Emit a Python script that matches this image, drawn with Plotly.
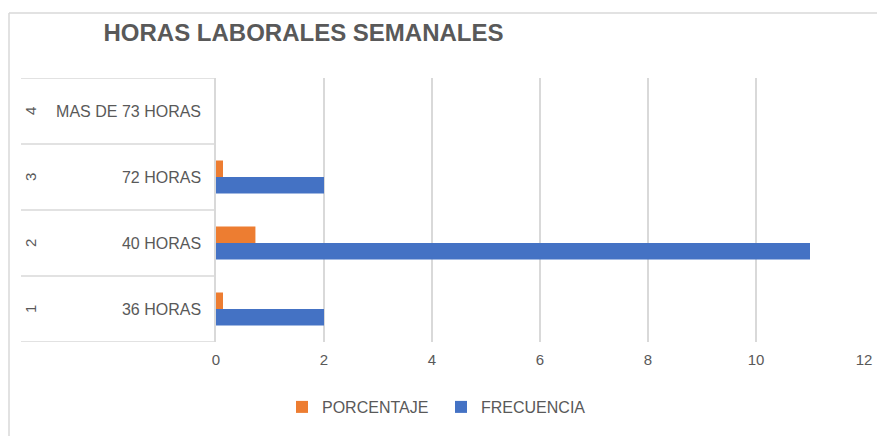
import plotly.graph_objects as go

# ---- data ----
categories = ["36 HORAS", "40 HORAS", "72 HORAS", "MAS DE 73 HORAS"]
codes = ["1", "2", "3", "4"]
frecuencia = [2, 11, 2, 0]
porcentaje = [0.13, 0.73, 0.13, 0]
x_ticks = [0, 2, 4, 6, 8, 10, 12]

W, H = 877, 436
ML, MT = 216, 78
PR, PB = 864, 342
MR, MB = W - PR, H - PB
PW = PR - ML
PH = PB - MT

def px_x(p):  # pixel x -> paper x
    return (p - ML) / PW

def px_y(p):  # pixel y -> paper y
    return (PB - p) / PH

TXT = "#595959"
GRID = "#d9d9d9"
FONT = "Liberation Sans, Arial, sans-serif"

fig = go.Figure()
fig.add_trace(go.Bar(y=categories, x=frecuencia, orientation="h", name="FRECUENCIA",
                     marker=dict(color="#4472C4", line=dict(width=0))))
fig.add_trace(go.Bar(y=categories, x=porcentaje, orientation="h", name="PORCENTAJE",
                     marker=dict(color="#ED7D31", line=dict(width=0))))

shapes = []
# chart border (top and left, cropped)
shapes.append(dict(type="line", xref="paper", yref="paper", x0=px_x(9), x1=px_x(900),
                   y0=px_y(13), y1=px_y(13), line=dict(color=GRID, width=1.5), layer="below"))
shapes.append(dict(type="line", xref="paper", yref="paper", x0=px_x(9), x1=px_x(9),
                   y0=px_y(13), y1=px_y(460), line=dict(color=GRID, width=1.5), layer="below"))
# multi-level category box lines
for k in range(len(categories) + 1):
    shapes.append(dict(type="line", xref="paper", yref="y", x0=px_x(21), x1=0,
                       y0=k - 0.5, y1=k - 0.5, line=dict(color=GRID, width=1.5), layer="below"))

annotations = []
for c, cat in zip(codes, categories):
    annotations.append(dict(xref="paper", yref="y", x=px_x(30), y=cat, text=c, showarrow=False,
                            textangle=-90, font=dict(family=FONT, size=15, color=TXT),
                            xanchor="center", yanchor="middle"))

fig.update_layout(
    width=W, height=H, autosize=False,
    margin=dict(l=ML, r=MR, t=MT, b=MB, autoexpand=False),
    paper_bgcolor="white", plot_bgcolor="white",
    barmode="group", bargap=0.5, bargroupgap=0,
    title=dict(text="<b>HORAS LABORALES SEMANALES</b>", x=303.5 / W, xanchor="center",
               y=1 - 33 / H, yanchor="middle",
               font=dict(family=FONT, size=24, color=TXT)),
    xaxis=dict(range=[0, 12], tickvals=x_ticks, showgrid=True, gridcolor=GRID, gridwidth=1.5,
               zeroline=False, showline=False, ticks="", automargin=False,
               tickfont=dict(family=FONT, size=15, color=TXT), ticklabelstandoff=7),
    yaxis=dict(type="category", categoryorder="array", categoryarray=categories,
               range=[-0.5, len(categories) - 0.5], showgrid=False, zeroline=False,
               showline=True, linecolor=GRID, linewidth=1.5, ticks="", automargin=False,
               tickfont=dict(family=FONT, size=16, color=TXT), ticklabelstandoff=10),
    legend=dict(orientation="h", traceorder="reversed", x=px_x(282), xanchor="left",
                y=px_y(407), yanchor="middle", font=dict(family=FONT, size=16, color=TXT),
                itemwidth=30, entrywidth=114, entrywidthmode="pixels",
                bgcolor="rgba(0,0,0,0)"),
    shapes=shapes,
    annotations=annotations,
    showlegend=True,
)

fig.write_html("out.html", config={"displayModeBar": False},
               post_script="document.body.style.margin='0';document.body.style.padding='0';"
                           "document.body.style.overflow='hidden';")
